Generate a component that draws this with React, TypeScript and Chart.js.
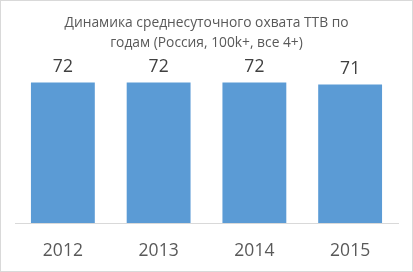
import React, { useEffect, useRef } from "react";
import { Chart, registerables } from "chart.js";

Chart.register(...registerables);

const categories = ["2012", "2013", "2014", "2015"];
const values = [72, 72, 72, 71];
const titleLines = ["Динамика среднесуточного охвата ТТВ по", "годам (Россия, 100k+, все 4+)"];

const FONT = "'Open Sans', 'Liberation Sans', sans-serif";

const valueLabels = {
  id: "valueLabels",
  afterDatasetsDraw(chart: any) {
    const ctx = chart.ctx;
    const meta = chart.getDatasetMeta(0);
    ctx.save();
    ctx.fillStyle = "#404040";
    ctx.font = `17.5px ${FONT}`;
    ctx.textAlign = "center";
    ctx.textBaseline = "middle";
    meta.data.forEach((bar: any, i: number) => {
      ctx.fillText(String(values[i]), bar.x, bar.y - 16);
    });
    ctx.restore();
  },
};

export default function App() {
  const ref = useRef<HTMLCanvasElement>(null);
  useEffect(() => {
    document.body.style.margin = "0";
    const chart = new Chart(ref.current!, {
      type: "bar",
      data: {
        labels: categories,
        datasets: [
          {
            data: values,
            backgroundColor: "#5B9BD5",
            categoryPercentage: 1,
            barPercentage: 0.667,
          },
        ],
      },
      options: {
        animation: false,
        responsive: false,
        maintainAspectRatio: false,
        layout: { padding: { left: 14, right: 14, top: 0, bottom: 0 } },
        plugins: {
          legend: { display: false },
          tooltip: { enabled: false },
          title: {
            display: true,
            text: titleLines,
            color: "#595959",
            font: { family: FONT, size: 13.8, weight: "normal", lineHeight: 1.45 },
            padding: { top: 12, bottom: 14 },
          },
        },
        scales: {
          x: {
            grid: { display: false, drawTicks: false },
            border: { display: true, color: "#d9d9d9", width: 1 },
            ticks: { color: "#595959", font: { family: FONT, size: 17.5 }, padding: 18 },
            afterFit: (s: any) => {
              s.height = 48;
            },
          },
          y: {
            display: false,
            min: 0,
            max: 80,
          },
        },
      },
      plugins: [valueLabels],
    });
    return () => chart.destroy();
  }, []);
  return (
    <div
      style={{
        position: "absolute",
        left: 0,
        top: 0,
        width: 413,
        height: 272,
        border: "1px solid #d9d9d9",
        boxSizing: "border-box",
        background: "#fff",
      }}
    >
      <canvas ref={ref} width={411} height={270} style={{ display: "block" }} />
    </div>
  );
}
